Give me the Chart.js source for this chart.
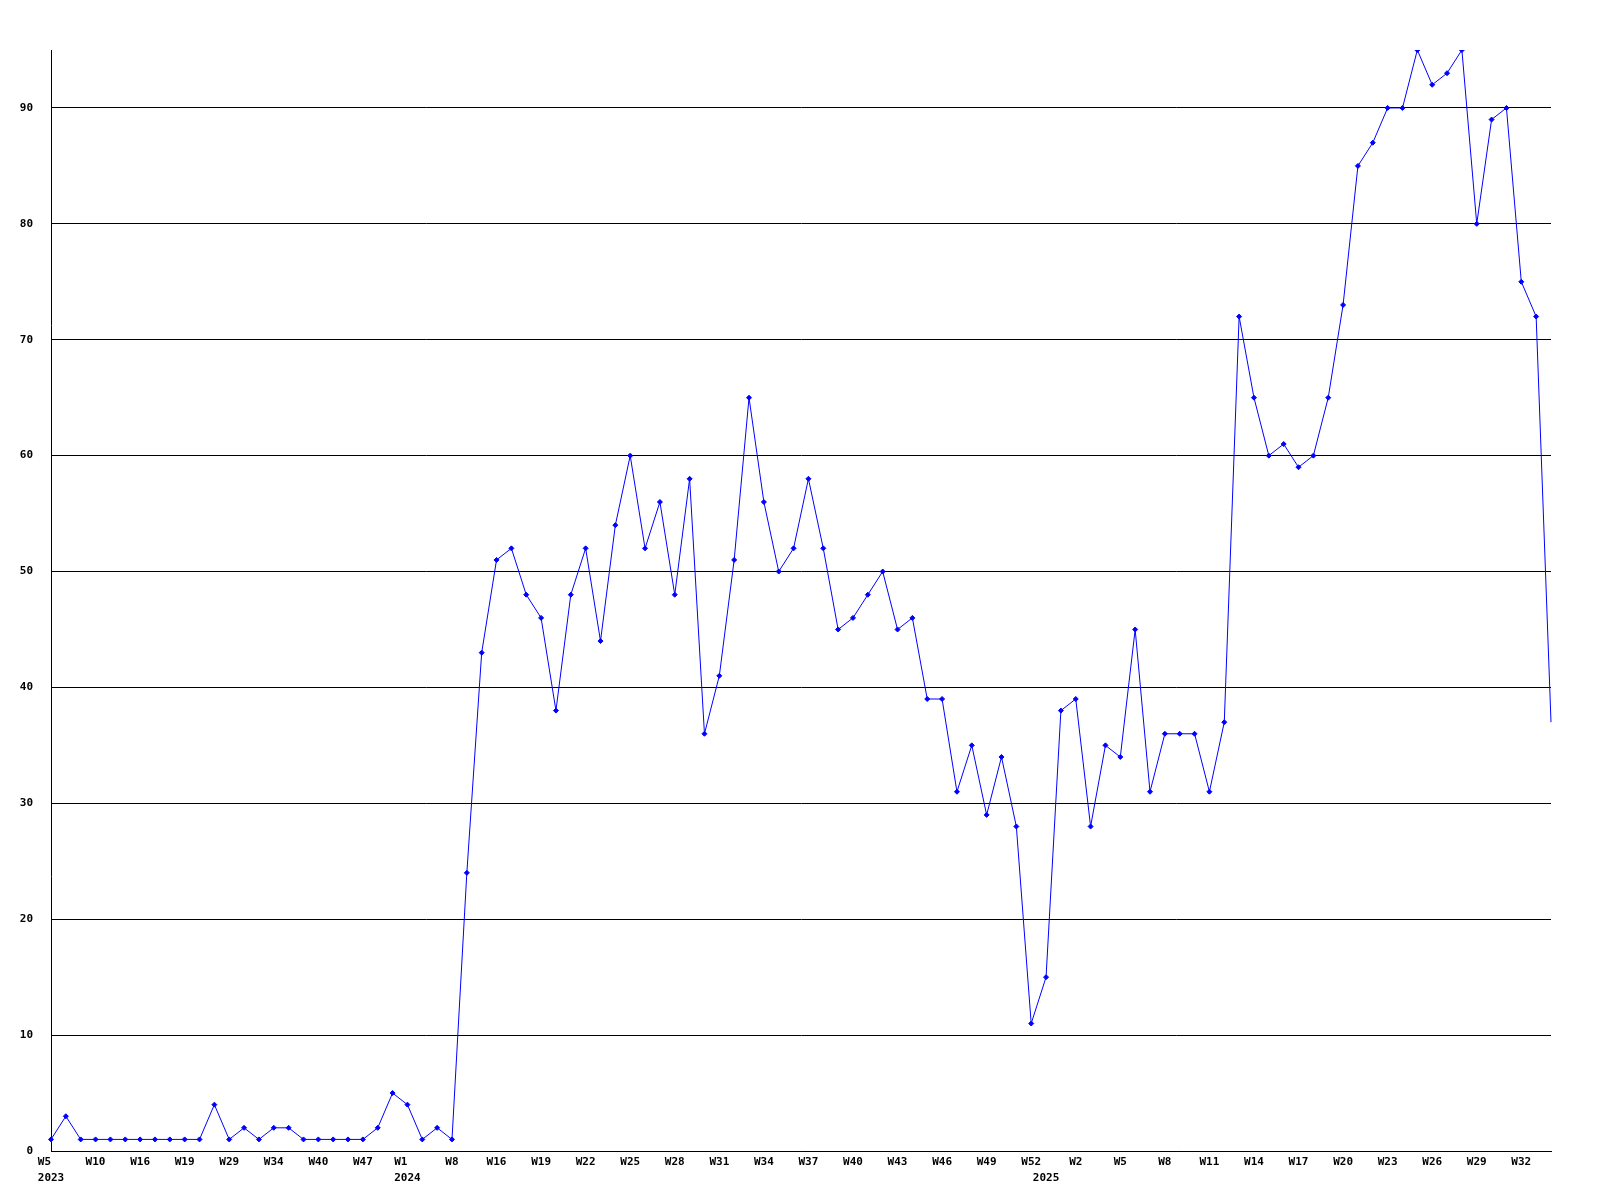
<!DOCTYPE html>
<html>
<head>
<meta charset="utf-8">
<script src="https://cdn.jsdelivr.net/npm/chart.js@4/dist/chart.umd.min.js"></script>
<style>
    html, body { margin: 0; padding: 0; background: #fff; }
    #chart { display: block; }
</style>
</head>
<body>
<canvas id="chart" width="1600" height="1200"></canvas>
<script>
// week labels per data point (only every 3rd is printed on the axis)
const weeks2023 = ['W5', 'W7', 'W8', 'W10', 'W12', 'W14', 'W16', 'W17', 'W18', 'W19', 'W21', 'W25',
    'W29', 'W31', 'W32', 'W34', 'W36', 'W38', 'W40', 'W43', 'W45', 'W47', 'W49', 'W51'];
const weeks2024 = ['W1', 'W3', 'W5', 'W8', 'W10', 'W13',
    'W16', 'W17', 'W18', 'W19', 'W20', 'W21', 'W22', 'W23', 'W24', 'W25', 'W26', 'W27', 'W28',
    'W29', 'W30', 'W31', 'W32', 'W33', 'W34', 'W35', 'W36', 'W37', 'W38', 'W39', 'W40', 'W41',
    'W42', 'W43', 'W44', 'W45', 'W46', 'W47', 'W48', 'W49', 'W50', 'W51', 'W52'];
const weeks2025 = ['W0', 'W1', 'W2', 'W3', 'W4', 'W5', 'W6', 'W7', 'W8', 'W9', 'W10', 'W11',
    'W12', 'W13', 'W14', 'W15', 'W16', 'W17', 'W18', 'W19', 'W20', 'W21', 'W22', 'W23',
    'W24', 'W25', 'W26', 'W27', 'W28', 'W29', 'W30', 'W31', 'W32', 'W33', 'W34'];
const years = ['2023', '2024', '2025'];

const values = [
    1, 3, 1, 1, 1, 1, 1, 1, 1, 1, 1, 4, 1, 2, 1, 2, 2, 1, 1, 1, 1, 1, 2, 5,
    4, 1, 2, 1, 24, 43,
    51, 52, 48, 46, 38, 48, 52, 44, 54, 60, 52, 56, 48, 58, 36, 41, 51, 65, 56, 50,
    52, 58, 52, 45, 46, 48, 50, 45, 46, 39, 39, 31, 35, 29, 34, 28, 11,
    15, 38, 39, 28, 35, 34, 45, 31, 36, 36, 36, 31, 37, 72, 65, 60, 61, 59, 60, 65,
    73, 85, 87, 90, 90, 95, 92, 93, 95, 80, 89, 90, 75, 72, 37
];

const yMin = 0;
const yMax = 95;
const yStep = 10;

const labels = [...weeks2023, ...weeks2024, ...weeks2025];
// index of the first week of each year -> year text under the axis
const yearStart = {};
yearStart[0] = years[0];
yearStart[weeks2023.length] = years[1];
yearStart[weeks2023.length + weeks2024.length] = years[2];

const FONT = { family: '"DejaVu Sans Mono", monospace', size: 11, weight: 'bold', lineHeight: 1.45 };

new Chart(document.getElementById('chart'), {
    type: 'line',
    data: {
        labels: labels,
        datasets: [{
            data: values,
            borderColor: '#0000ff',
            backgroundColor: '#0000ff',
            borderWidth: 1,
            tension: 0,
            pointStyle: 'rectRot',
            pointRadius: values.map((v, i) => i === values.length - 1 ? 0 : 2.5),
            pointBorderWidth: 1,
            pointBorderColor: '#0000ff',
            pointBackgroundColor: '#0000ff'
        }]
    },
    options: {
        responsive: false,
        animation: false,
        devicePixelRatio: 1,
        layout: { padding: { top: 50, right: 49, left: 0, bottom: 0 } },
        plugins: {
            legend: { display: false },
            tooltip: { enabled: false }
        },
        scales: {
            x: {
                type: 'category',
                offset: false,
                grid: { display: false, drawTicks: false },
                border: { display: true, color: '#000', width: 1 },
                afterFit: axis => { axis.height = 49; },
                ticks: {
                    autoSkip: false,
                    maxRotation: 0,
                    minRotation: 0,
                    padding: 3,
                    color: '#000',
                    font: FONT,
                    callback: function (val, i) {
                        const w = i % 3 === 0 ? labels[i] : '';
                        const yr = yearStart[i];
                        if (yr) return [w.padEnd(4, ' '), yr];
                        return w;
                    }
                }
            },
            y: {
                min: yMin,
                max: yMax,
                grid: { color: '#000', lineWidth: 1, drawTicks: false },
                border: { display: true, color: '#000', width: 1 },
                afterFit: axis => { axis.width = 51; },
                ticks: {
                    stepSize: yStep,
                    includeBounds: false,
                    padding: 18,
                    color: '#000',
                    font: FONT
                }
            }
        }
    }
});
</script>
</body>
</html>
